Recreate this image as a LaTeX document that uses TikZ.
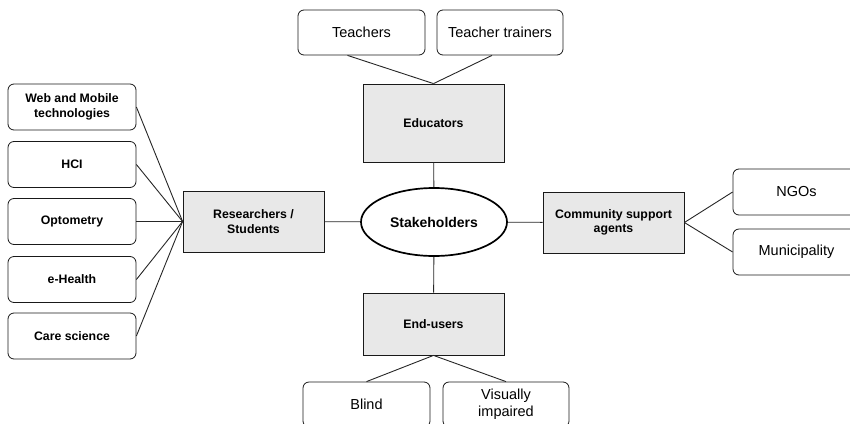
\documentclass[tikz,border=0pt]{standalone}
\usepackage{fontspec}
\setmainfont{Liberation Sans}
\usetikzlibrary{shapes.geometric}

\begin{document}
\begin{tikzpicture}[x=1pt, y=-1pt,
    group/.style={draw=black!90, line width=0.8pt, fill=black!9, minimum width=141pt,
                  inner sep=2pt, align=center,
                  font=\fontsize{12.3}{14.5}\selectfont\bfseries},
    field/.style={draw=black!90, line width=0.8pt, rounded corners=6pt, minimum width=128pt,
                  minimum height=46pt, inner sep=2pt, align=center,
                  font=\fontsize{12.3}{14.5}\selectfont\bfseries},
    leaf/.style={draw=black!90, line width=0.8pt, rounded corners=6pt, minimum width=127pt,
                 minimum height=45pt, inner sep=2pt, align=center,
                 font=\fontsize{14.5}{17}\selectfont},
    link/.style={draw=black!85, line width=0.9pt},
]
\clip (0,0) rectangle (850,423);
% centre
\node[ellipse, draw, line width=1.7pt, minimum width=146pt, minimum height=68pt,
      inner sep=0pt, font=\fontsize{14}{16}\selectfont\bfseries] (stake) at (434,222) {Stakeholders};
% the four groups
\node[group, minimum height=78pt] (edu) at (433.5,123) {Educators};
\node[group, minimum height=62pt] (endu) at (433.5,324) {End-users};
\node[group, minimum height=61pt] (res) at (253.5,221.5) {Researchers /\\Students};
\node[group, minimum height=61pt] (comm) at (613.5,222.5) {Community support\\agents};
\draw[link] (edu) -- (stake);
\draw[link] (endu) -- (stake);
\draw[link] (res) -- (stake);
\draw[link] (comm) -- (stake);
% educators
\node[leaf] (teach) at (361.5,32.5) {Teachers};
\node[leaf, minimum width=126pt] (ttrain) at (500,32.5) {Teacher trainers};
\draw[link] ([xshift=-14pt]teach.south) -- (edu.north);
\draw[link] ([xshift=-8pt]ttrain.south) -- (edu.north);
% end-users
\node[leaf] (blind) at (366.5,404.5) {Blind};
\node[leaf, minimum width=126pt] (vis) at (506,404.5) {Visually\\impaired};
\draw[link] (endu.south) -- (blind.north);
\draw[link] (endu.south) -- (vis.north);
% community support agents
\node[leaf, minimum height=46pt] (ngo) at (796.5,192) {NGOs};
\node[leaf, minimum height=46pt] (muni) at (796.5,252) {Municipality};
\draw[link] (comm.east) -- (ngo.west);
\draw[link] (comm.east) -- (muni.west);
% researchers / students
\node[field] (web) at (72,107) {Web and Mobile\\technologies};
\node[field] (hci) at (72,164.5) {HCI};
\node[field] (opto) at (72,221.5) {Optometry};
\node[field] (ehealth) at (72,279.5) {e-Health};
\node[field] (care) at (72,336) {Care science};
\draw[link] (web.east) -- (res.west);
\draw[link] (hci.east) -- (res.west);
\draw[link] (opto.east) -- (res.west);
\draw[link] (ehealth.east) -- (res.west);
\draw[link] (care.east) -- (res.west);
\end{tikzpicture}
\end{document}
